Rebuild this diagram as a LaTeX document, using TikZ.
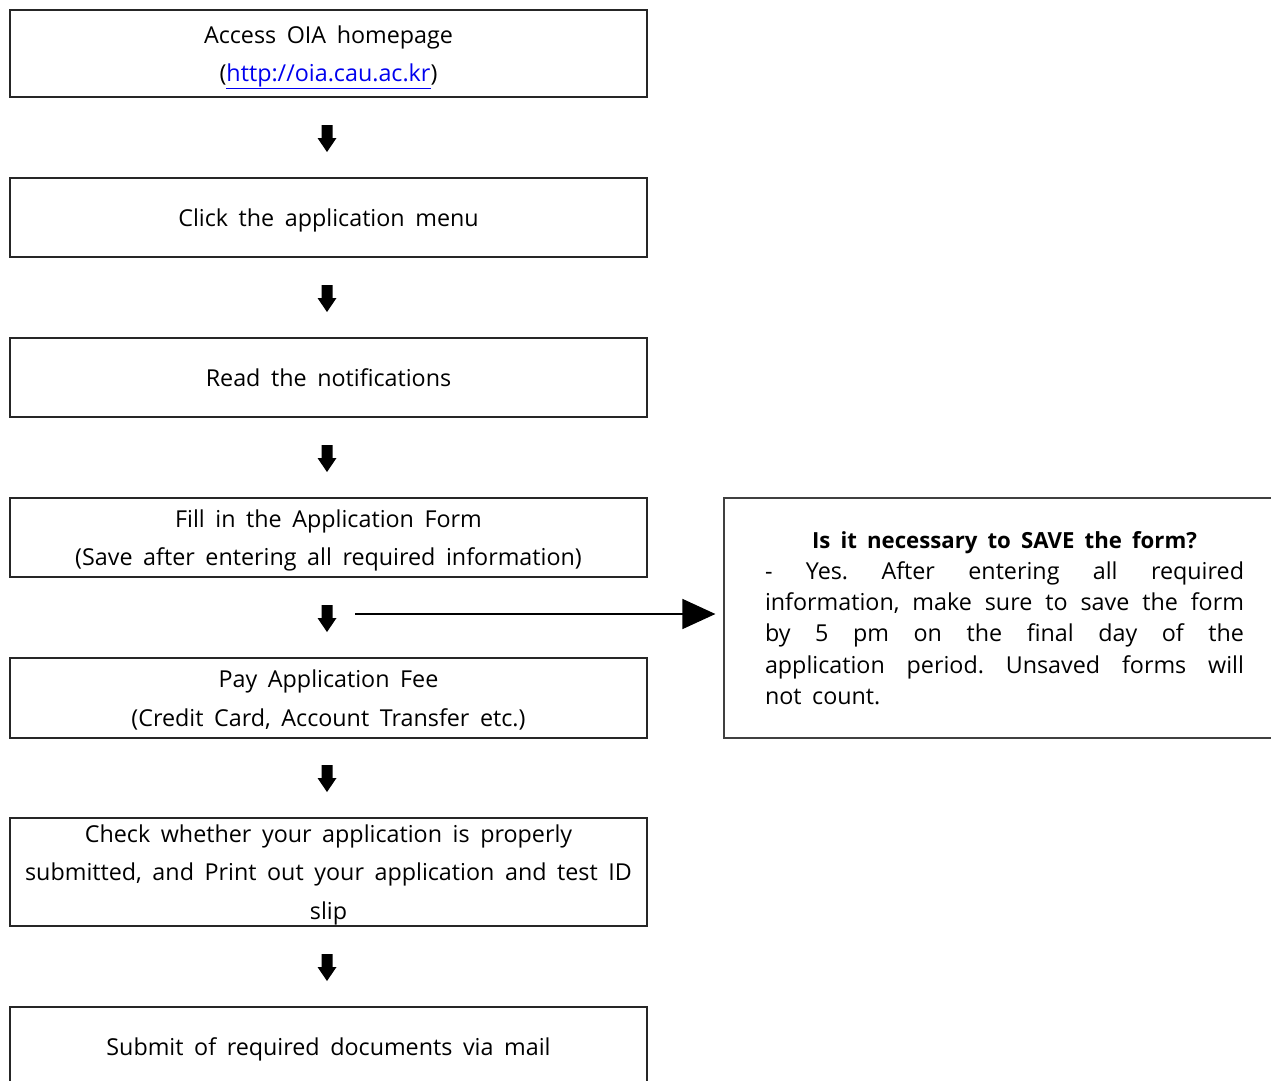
\documentclass[tikz,border=0pt]{standalone}
\usepackage{fontspec}
\setmainfont[WordSpace=1.75]{Open Sans}
\usetikzlibrary{arrows.meta}
\definecolor{linkblue}{RGB}{0,0,238}
\tikzset{
  stepbox/.style={draw=black!85, line width=1.2pt, minimum width=637pt, inner sep=0pt, align=center,
    text depth=0pt, font={\fontsize{23.3}{38.5}\selectfont}},
  notebox/.style={draw=black!75, line width=1.2pt, minimum width=561pt, minimum height=240pt, inner sep=0pt,
    text width=479pt, align=justify, font={\fontsize{23.3}{31.2}\selectfont\frenchspacing}},
  conn/.style={line width=1.5pt, -{Triangle[length=33pt,width=30pt]}},
}
\newcommand{\blockdown}[2]{%
  \fill[black] (#1-5.5,#2-13) -- (#1+5.5,#2-13) -- (#1+5.5,#2) -- (#1+9.5,#2) -- (#1,#2+14) -- (#1-9.5,#2) -- (#1-5.5,#2) -- cycle;}
\begin{document}
\begin{tikzpicture}[x=1pt,y=-1pt]
\useasboundingbox (0,0) rectangle (1271,1081);
\begin{scope}
\clip (0,0) rectangle (1271,1081);
\node[stepbox, minimum height=87pt] (s1) at (328.5,53.5) {Access OIA homepage\\(\textcolor{linkblue}{\underline{http://oia.cau.ac.kr}})};
\node[stepbox, minimum height=79pt] (s2) at (328.5,217.5) {Click the application menu};
\node[stepbox, minimum height=79pt] (s3) at (328.5,377.5) {Read the notifications};
\node[stepbox, minimum height=79pt] (s4) at (328.5,537.5) {Fill in the Application Form\\(Save after entering all required information)};
\node[stepbox, minimum height=80pt] (s5) at (328.5,698) {Pay Application Fee\\(Credit Card, Account Transfer etc.)};
\node[stepbox, minimum height=108pt] (s6) at (328.5,872) {Check whether your application is properly\\submitted, and Print out your application and test ID\\slip};
\node[stepbox, minimum height=80pt] (s7) at (328.5,1047) {Submit of required documents via mail};
\node[notebox] (note) at (1004.5,618) {{\centering\bfseries\fontsize{22.2}{31.2}\selectfont Is it necessary to SAVE the form?\par}
- Yes. After entering all required\linebreak information, make sure to save the form\linebreak by 5 pm on the final day of the\linebreak application period. Unsaved forms will\linebreak not count.};
\end{scope}
\blockdown{327}{138}
\blockdown{327}{298}
\blockdown{327}{458}
\blockdown{327}{618}
\blockdown{327}{778}
\blockdown{327}{967}
\coordinate (hs) at (355,614);
\draw[conn, shorten >=8pt] (hs) -- (note.west |- hs);
\end{tikzpicture}
\end{document}
